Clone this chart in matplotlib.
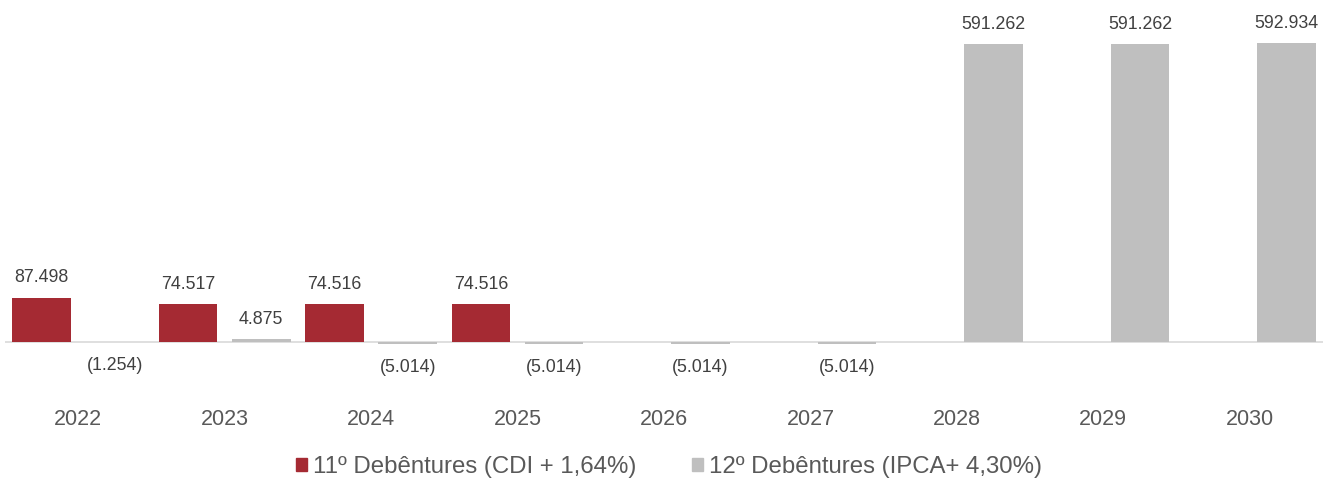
import matplotlib
matplotlib.use("Agg")
import matplotlib.pyplot as plt
from matplotlib.patches import Patch
import numpy as np

plt.rcParams['font.family'] = ['Liberation Sans', 'DejaVu Sans']

years = ["2022", "2023", "2024", "2025", "2026", "2027", "2028", "2029", "2030"]
deb11 = [87498, 74517, 74516, 74516, 0, 0, 0, 0, 0]
deb12 = [-1254, 4875, -5014, -5014, -5014, -5014, 591262, 591262, 592934]

name11 = "11º Debêntures (CDI + 1,64%)"
name12 = "12º Debêntures (IPCA+ 4,30%)"

red = "#A52A33"
grey = "#BFBFBF"
txt = "#595959"
val_txt = "#404040"


def fmt(v):
    s = f"{abs(v):,}".replace(",", ".")
    return f"({s})" if v < 0 else s


W, H = 1323, 478
fig = plt.figure(figsize=(W / 100, H / 100), dpi=100)

# axes: top at pixel 0, bottom at pixel 350, zero line at 341.7
ax = fig.add_axes([5 / W, 1 - 350 / H, 1318 / W, 350 / H])
k = 297.4 / 591262  # px per unit
ax.set_ylim(-(350 - 341.7) / k, 341.7 / k)
ax.set_xlim(-0.5, 8.5)

x = np.arange(len(years))
w = 0.4
b1 = ax.bar(x - 0.25, deb11, w, color=red)
b2 = ax.bar(x + 0.25, deb12, w, color=grey)

ax.axhline(0, color="#D9D9D9", lw=1.2, zorder=0)

for bars, vals in [(b1, deb11), (b2, deb12)]:
    for b, v in zip(bars, vals):
        if v == 0:
            continue
        cx = b.get_x() + b.get_width() / 2
        if v > 0:
            ax.annotate(fmt(v), (cx, v), xytext=(0, 11.2), textcoords="offset points",
                        ha="center", va="baseline", fontsize=12.8, color=val_txt)
        else:
            ax.annotate(fmt(v), (cx, v), xytext=(0, -17), textcoords="offset points",
                        ha="center", va="center", fontsize=12.8, color=val_txt,
                        annotation_clip=False)

ax.set_xticks(x)
ax.set_xticklabels(years, fontsize=15.5, color=txt)
ax.tick_params(axis="x", length=0, pad=42.5)
ax.set_yticks([])
for s in ax.spines.values():
    s.set_visible(False)

handles = [Patch(color=red, label=name11), Patch(color=grey, label=name12)]
fig.legend(handles=handles, loc="center", bbox_to_anchor=(669 / W, 1 - 467 / H),
           ncol=2, frameon=False, fontsize=17.3, handlelength=0.46, handleheight=0.5,
           handletextpad=0.25, columnspacing=2.3, labelcolor=txt,
           borderpad=0, borderaxespad=0)

fig.savefig("out.png", dpi=100)
